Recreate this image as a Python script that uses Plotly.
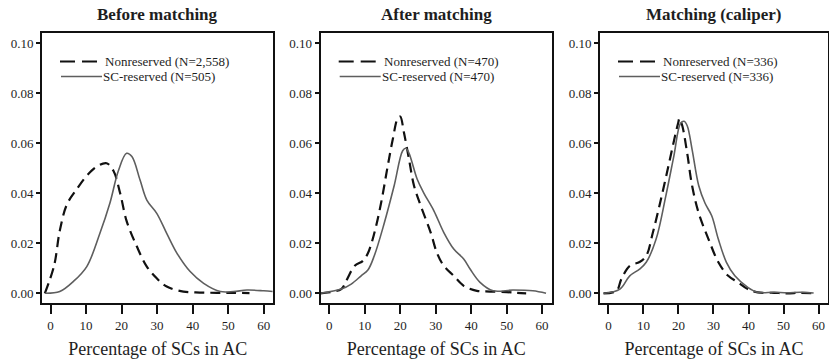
import plotly.graph_objects as go

# Kernel density estimates of the share of SCs in the assembly constituency (AC)
panel_titles = ["Before matching", "After matching", "Matching (caliper)"]
x_title = "Percentage of SCs in AC"

nonres_labels = ["Nonreserved (N=2,558)", "Nonreserved (N=470)", "Nonreserved (N=336)"]
sc_labels = ["SC-reserved (N=505)", "SC-reserved (N=470)", "SC-reserved (N=336)"]

# Before matching
before_non_x = [-1.6, 1.0, 2.6, 4.6, 7.3, 10.2, 13.0, 15.8, 17.7, 19.6, 21.4, 24.3, 27.1,
                29.9, 32.7, 37.4, 42.0, 46.8, 51.5, 56.0]
before_non_y = [0.000, 0.011, 0.025, 0.0355, 0.0415, 0.047, 0.0507, 0.052, 0.049, 0.040,
                0.029, 0.0187, 0.0107, 0.006, 0.0027, 0.0007, 0.0003, 0.0002, 0.0002, 0.0001]
before_sc_x = [-1.5, 2.6, 6.4, 10.2, 13.9, 16.7, 19.1, 21.4, 22.9, 25.2, 27.1, 29.9, 32.7,
               35.6, 39.3, 43.1, 47.8, 51.5, 55.3, 60.0, 62.5]
before_sc_y = [0.000, 0.0007, 0.0047, 0.0107, 0.024, 0.036, 0.049, 0.056, 0.0547, 0.0453,
               0.0373, 0.032, 0.024, 0.016, 0.0087, 0.004, 0.0007, 0.0007, 0.0013, 0.001, 0.0007]

# After matching
after_non_x = [-2.5, 3.4, 4.8, 7.2, 9.5, 10.9, 12.7, 14.6, 16.5, 17.9, 19.3, 20.0, 21.1, 22.5,
               23.9, 25.8, 28.6, 30.4, 32.3, 35.1, 37.9, 41.6, 45.3, 50.0, 52.7, 55.5]
after_non_y = [0.000, 0.0017, 0.005, 0.011, 0.013, 0.016, 0.024, 0.036, 0.051, 0.0615, 0.070,
               0.0707, 0.064, 0.0535, 0.043, 0.035, 0.0243, 0.016, 0.011, 0.007, 0.003, 0.001,
               0.0007, 0.0005, 0.0002, 0.0000]
after_sc_x = [-2.5, 3.4, 6.2, 9.0, 10.9, 12.7, 15.5, 18.3, 20.7, 21.6, 22.5, 24.8, 26.7, 29.5,
              32.3, 35.1, 37.9, 39.7, 42.5, 46.2, 51.8, 57.4, 61.1]
after_sc_y = [0.000, 0.0017, 0.0037, 0.007, 0.0093, 0.015, 0.028, 0.043, 0.057, 0.058, 0.056,
              0.0456, 0.040, 0.033, 0.0243, 0.0177, 0.0137, 0.0097, 0.0044, 0.001, 0.0013,
              0.001, 0.0000]

# Matching with caliper
cal_non_x = [-1.4, 2.3, 3.7, 6.1, 8.9, 10.8, 12.7, 15.0, 17.3, 19.2, 19.9, 20.3, 21.1, 22.5,
             23.9, 25.8, 28.6, 31.4, 34.2, 37.0, 39.8, 42.6, 47.3, 51.1, 54.8, 58.6]
cal_non_y = [0.000, 0.001, 0.0057, 0.011, 0.0125, 0.015, 0.0243, 0.0376, 0.052, 0.064, 0.068,
             0.070, 0.067, 0.056, 0.043, 0.032, 0.0216, 0.0124, 0.007, 0.0044, 0.0017, 0.0004,
             0.0002, 0.0000, 0.0002, 0.0000]
cal_sc_x = [-1.4, 3.3, 6.1, 8.9, 10.8, 13.6, 16.4, 18.7, 20.6, 21.6, 22.5, 23.9, 25.8, 27.6,
            29.5, 31.4, 33.7, 36.1, 39.8, 42.6, 47.3, 51.1, 54.8, 58.6]
cal_sc_y = [0.000, 0.0017, 0.007, 0.0097, 0.0124, 0.0216, 0.039, 0.055, 0.068, 0.0688, 0.067,
            0.0575, 0.043, 0.036, 0.031, 0.0216, 0.0124, 0.007, 0.0024, 0.0004, 0.0004, 0.0002,
            0.0004, 0.0001]

x_ticks = [0, 10, 20, 30, 40, 50, 60]
y_ticks = [0.00, 0.02, 0.04, 0.06, 0.08, 0.10]

series = [
    (before_non_x, before_non_y, before_sc_x, before_sc_y),
    (after_non_x, after_non_y, after_sc_x, after_sc_y),
    (cal_non_x, cal_non_y, cal_sc_x, cal_sc_y),
]

W, H = 829, 364
FONT = "Liberation Serif"
TXT = "#1e1e1e"
DASH_COLOR = "#111111"
SOLID_COLOR = "#5e5e5e"

# Panel boxes in pixels: (left, right)
px_boxes = [(42, 273.3), (320.7, 551.7), (600, 828)]
box_top, box_bottom = 32.7, 303.3
ydom = [(H - box_bottom) / H, (H - box_top) / H]


def fx(px):
    return px / W


def fy(py):
    return (H - py) / H


fig = go.Figure()

for i, (nx, ny, sx, sy) in enumerate(series):
    sfx = "" if i == 0 else str(i + 1)
    fig.add_trace(go.Scatter(
        x=nx, y=ny, mode="lines", name=nonres_labels[i], line_shape="spline",
        line=dict(color=DASH_COLOR, width=2.2, dash="10px,6px"),
        xaxis="x" + sfx, yaxis="y" + sfx, showlegend=False))
    fig.add_trace(go.Scatter(
        x=sx, y=sy, mode="lines", name=sc_labels[i], line_shape="spline",
        line=dict(color=SOLID_COLOR, width=1.6),
        xaxis="x" + sfx, yaxis="y" + sfx, showlegend=False))

layout = dict(
    width=W, height=H,
    margin=dict(l=0, r=0, t=0, b=0),
    paper_bgcolor="white", plot_bgcolor="white",
    font=dict(family=FONT, color=TXT, size=13),
    annotations=[], shapes=[], showlegend=False,
)

for i, (l, r) in enumerate(px_boxes):
    sfx = "" if i == 0 else str(i + 1)
    layout["xaxis" + sfx] = dict(
        domain=[fx(l), fx(r)], range=[-2.4, 62.7], anchor="y" + sfx,
        tickvals=x_ticks, ticks="outside", ticklen=9, tickwidth=2, tickcolor="#111",
        showline=True, linecolor="#111", linewidth=2, mirror=True,
        showgrid=False, zeroline=False, tickfont=dict(size=13, family=FONT, color=TXT),
        title=dict(text=x_title, font=dict(size=18, family=FONT, color=TXT), standoff=10),
    )
    layout["yaxis" + sfx] = dict(
        domain=list(ydom), range=[-0.004, 0.10424], anchor="x" + sfx,
        tickvals=y_ticks, tickformat=".2f", ticks="outside", ticklen=4, tickwidth=2,
        tickcolor="#111", showline=True, linecolor="#111", linewidth=2, mirror=True,
        showgrid=False, zeroline=False, tickfont=dict(size=13, family=FONT, color=TXT),
    )
    # Key: dashed / solid sample lines with their labels
    row1, row2 = 61.5, 76.5
    layout["shapes"].append(dict(
        type="line", xref="paper", yref="paper", x0=fx(l + 18), x1=fx(l + 56),
        y0=fy(row1), y1=fy(row1), line=dict(color=DASH_COLOR, width=2.2, dash="15px,7px")))
    layout["shapes"].append(dict(
        type="line", xref="paper", yref="paper", x0=fx(l + 19), x1=fx(l + 60),
        y0=fy(row2), y1=fy(row2), line=dict(color=SOLID_COLOR, width=1.6)))
    for text, row, x0 in [(nonres_labels[i], row1, l + 62), (sc_labels[i], row2, l + 60)]:
        layout["annotations"].append(dict(
            text=text, x=fx(x0), y=fy(row), xref="paper", yref="paper", showarrow=False,
            xanchor="left", yanchor="middle", borderpad=0,
            font=dict(size=13, family=FONT, color=TXT)))
    layout["annotations"].append(dict(
        text=f"<b>{panel_titles[i]}</b>", x=fx((l + r) / 2), y=fy(15),
        xref="paper", yref="paper", showarrow=False, xanchor="center", yanchor="middle",
        font=dict(size=17, family=FONT, color=TXT)))

fig.update_layout(**layout)
fig.write_html("out.html")
